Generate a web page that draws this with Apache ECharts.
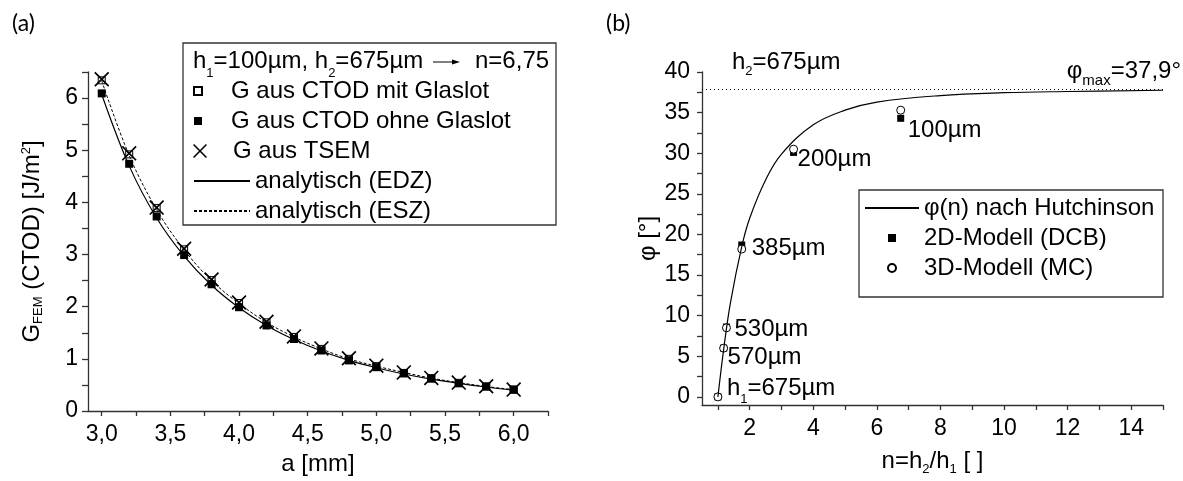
<!DOCTYPE html>
<html>
<head>
<meta charset="utf-8">
<script src="https://cdn.jsdelivr.net/npm/echarts@6/dist/echarts.min.js"></script>
<style>
  html, body { margin: 0; padding: 0; background: #fff; }
  #chart { width: 1183px; height: 481px; }
</style>
</head>
<body>
<div id="chart"></div>
<script>
// ---- (a) energy release rate G over crack length a ----
const crackLength   = [3.0, 3.2, 3.4, 3.6, 3.8, 4.0, 4.2, 4.4, 4.6, 4.8, 5.0, 5.2, 5.4, 5.6, 5.8, 6.0];
const gMitGlaslot   = [6.34, 4.92, 3.89, 3.10, 2.51, 2.07, 1.70, 1.42, 1.19, 1.00, 0.86, 0.73, 0.63, 0.54, 0.47, 0.41];
const gOhneGlaslot  = [6.09, 4.74, 3.73, 2.99, 2.43, 1.99, 1.64, 1.38, 1.16, 0.97, 0.84, 0.72, 0.62, 0.53, 0.47, 0.41];
const gTsem         = [6.36, 4.94, 3.90, 3.11, 2.52, 2.08, 1.71, 1.43, 1.20, 1.01, 0.87, 0.74, 0.635, 0.545, 0.475, 0.41];
const gAnalytEdz    = [6.07, 4.70, 3.70, 2.97, 2.41, 1.98, 1.64, 1.37, 1.15, 0.97, 0.83, 0.71, 0.61, 0.53, 0.46, 0.40];
const gAnalytEsz    = [6.33, 4.90, 3.86, 3.09, 2.50, 2.06, 1.70, 1.42, 1.19, 1.00, 0.86, 0.74, 0.63, 0.545, 0.47, 0.41];
const aTickLabels   = [3.0, 3.5, 4.0, 4.5, 5.0, 5.5, 6.0];
const gTickLabels   = [0, 1, 2, 3, 4, 5, 6];

// ---- (b) mode mixity phi over thickness ratio n = h2/h1 ----
const layerThickness = [675, 570, 530, 385, 200, 100];   // h1 in µm
const thicknessRatio = [1.0, 1.18, 1.27, 1.75, 3.38, 6.75];
const phi2D          = [0, 6.0, 8.6, 18.7, 30.1, 34.3];
const phi3D          = [0, 6.0, 8.5, 18.2, 30.5, 35.3];
const hutchN         = [1.0, 1.2, 1.4, 1.75, 2.0, 2.5, 3.0, 4.0, 5.0, 6.0, 8.0, 10.0, 12.0, 15.0];
const hutchPhi       = [0, 6.4, 11.7, 18.5, 22.0, 26.7, 29.9, 33.5, 35.3, 36.3, 37.1, 37.45, 37.6, 37.75];
const phiMax         = 37.9;
const nTickLabels    = [2, 4, 6, 8, 10, 12, 14];
const phiTickLabels  = [0, 5, 10, 15, 20, 25, 30, 35, 40];

const FONT = "'Liberation Sans', Arial, sans-serif";
const FS = 24;      // names, legends, annotations
const TFS = 23;     // tick labels
const AXIS_COLOR = '#333';

function range(a, b, step) {
  const out = [];
  for (let v = a; v <= b + 1e-9; v += step) out.push(+v.toFixed(4));
  return out;
}
// rich styles: main text plus a lowered (or raised) small token
function richSub(subSize, offset) {
  const L = 2 * offset + subSize;
  return {
    t:   { fontSize: FS, fontFamily: FONT, color: '#000', lineHeight: L },
    s:   { fontSize: subSize, fontFamily: FONT, color: '#000', lineHeight: subSize, verticalAlign: 'bottom' },
    sup: { fontSize: subSize, fontFamily: FONT, color: '#000', lineHeight: subSize, verticalAlign: 'top' }
  };
}
const xMark = 'path://M0,0.8L0.8,0L10,9.2L9.2,10Z M9.2,0L10,0.8L0.8,10L0,9.2Z';
const squareIcon = 'path://M0,0L10,0L10,10L0,10Z';

function axisCommon() {
  return {
    type: 'value',
    axisLine: { show: true, onZero: false, lineStyle: { color: AXIS_COLOR, width: 1.3 } },
    splitLine: { show: false },
    nameLocation: 'middle',
    nameTextStyle: { fontSize: FS, fontFamily: FONT, color: '#000' }
  };
}
function legendBlock(data, left, top, itemHeight, itemWidth) {
  return {
    data, orient: 'vertical', left, top, itemWidth, itemHeight, itemGap: 6, padding: 0,
    selectedMode: false, symbolKeepAspect: true,
    textStyle: { fontSize: FS, fontFamily: FONT, color: '#000', lineHeight: 24 }
  };
}

// label offsets for the layer thickness annotations in (b)
const thicknessLabelShift = [[9, -9], [4, 9], [8, 2], [10, 3], [4, 7], [7, 12]];

const chart = echarts.init(document.getElementById('chart'), null, { renderer: 'canvas' });

const option = {
  animation: false,
  backgroundColor: '#fff',
  textStyle: { fontFamily: FONT },
  grid: [
    { left: 88, top: 72, width: 460, height: 341 },
    { left: 702, top: 72, width: 461, height: 341 }
  ],
  xAxis: [
    Object.assign(axisCommon(), {
      gridIndex: 0, min: 2.9, max: 6.25,
      axisTick: { show: true, length: 5, customValues: range(3.0, 6.25, 0.25), lineStyle: { color: AXIS_COLOR, width: 1.3 } },
      axisLabel: { customValues: aTickLabels, fontSize: TFS, color: '#000', margin: 12,
                   formatter: v => v.toFixed(1).replace('.', ',') },
      name: 'a [mm]', nameGap: 41
    }),
    Object.assign(axisCommon(), {
      gridIndex: 1, min: 0.5, max: 15,
      axisTick: { show: true, length: 5, customValues: range(1, 15, 1), lineStyle: { color: AXIS_COLOR, width: 1.3 } },
      axisLabel: { customValues: nTickLabels, fontSize: TFS, color: '#000', margin: 12 },
      name: '{t|n=h}{s|2}{t|/h}{s|1}{t| [ ]}', nameGap: 42,
      nameTextStyle: { fontSize: FS, color: '#000', rich: richSub(13, 8) }
    })
  ],
  yAxis: [
    Object.assign(axisCommon(), {
      gridIndex: 0, min: 0, max: 6.5,
      axisTick: { show: true, length: 6, customValues: range(0, 6.5, 0.5), lineStyle: { color: AXIS_COLOR, width: 1.3 } },
      axisLabel: { customValues: gTickLabels, fontSize: TFS, color: '#000', margin: 10 },
      name: '{t|G}{s|FEM}{t| (CTOD) [J/m}{sup|2}{t|]}', nameGap: 43, nameRotate: 90,
      nameTextStyle: { fontSize: FS, color: '#000', rich: richSub(13, 6) }
    }),
    Object.assign(axisCommon(), {
      gridIndex: 1, min: -1, max: 40,
      axisTick: { show: true, length: 5, customValues: range(0, 40, 2.5), lineStyle: { color: AXIS_COLOR, width: 1.3 } },
      axisLabel: { customValues: phiTickLabels, fontSize: TFS, color: '#000', margin: 12 },
      name: 'φ [°]', nameGap: 39, nameRotate: 90
    })
  ],
  legend: [
    legendBlock([{ name: 'G aus CTOD mit Glaslot', icon: squareIcon },
                 { name: 'G aus CTOD ohne Glaslot', icon: squareIcon }], 193, 79, 8, 56),
    legendBlock(['G aus TSEM'], 193, 139, 14, 56),
    legendBlock([{ name: 'analytisch (EDZ)', itemStyle: { opacity: 0 } },
                 { name: 'analytisch (ESZ)', itemStyle: { opacity: 0 } }], 193, 169, 8, 56),
    legendBlock([{ name: 'φ(n) nach Hutchinson', itemStyle: { opacity: 0 } },
                 { name: '2D-Modell (DCB)', icon: squareIcon },
                 '3D-Modell (MC)'], 864, 196, 8, 54)
  ],
  series: [
    { name: 'analytisch (EDZ)', type: 'line', xAxisIndex: 0, yAxisIndex: 0, smooth: 0.35, symbol: 'none',
      lineStyle: { color: '#000', width: 1.2 }, itemStyle: { color: '#000' },
      data: crackLength.map((a, i) => [a, gAnalytEdz[i]]) },
    { name: 'analytisch (ESZ)', type: 'line', xAxisIndex: 0, yAxisIndex: 0, smooth: 0.35, symbol: 'none',
      lineStyle: { color: '#000', width: 1, type: [3, 2] }, itemStyle: { color: '#000' },
      data: crackLength.map((a, i) => [a, gAnalytEsz[i]]) },
    { name: 'G aus CTOD mit Glaslot', type: 'scatter', xAxisIndex: 0, yAxisIndex: 0, symbol: 'rect', symbolSize: 7,
      itemStyle: { color: '#fff', borderColor: '#000', borderWidth: 1, opacity: 1 },
      data: crackLength.map((a, i) => [a, gMitGlaslot[i]]) },
    { name: 'G aus CTOD ohne Glaslot', type: 'scatter', xAxisIndex: 0, yAxisIndex: 0, symbol: 'rect', symbolSize: 8,
      itemStyle: { color: '#000', opacity: 1 },
      data: crackLength.map((a, i) => [a, gOhneGlaslot[i]]) },
    { name: 'G aus TSEM', type: 'scatter', xAxisIndex: 0, yAxisIndex: 0, symbol: xMark, symbolSize: 15,
      symbolKeepAspect: true, itemStyle: { color: '#000', opacity: 1 },
      data: crackLength.map((a, i) => [a, gTsem[i]]) },

    { name: 'φ(n) nach Hutchinson', type: 'line', xAxisIndex: 1, yAxisIndex: 1, smooth: 0.4,
      symbol: 'none', lineStyle: { color: '#000', width: 1.2 }, itemStyle: { color: '#000' },
      data: hutchN.map((n, i) => [n, hutchPhi[i]]),
      markLine: { silent: true, symbol: ['none', 'none'], label: { show: false },
                  lineStyle: { color: '#000', width: 1, type: [1, 3] },
                  data: [{ yAxis: phiMax }] } },
    { name: '2D-Modell (DCB)', type: 'scatter', xAxisIndex: 1, yAxisIndex: 1, symbol: 'rect', symbolSize: 7,
      itemStyle: { color: '#000', opacity: 1 },
      data: thicknessRatio.map((n, i) => ({
        value: [n, phi2D[i]],
        label: {
          show: true, position: 'inside', align: 'left', verticalAlign: 'middle',
          offset: thicknessLabelShift[i],
          formatter: i === 0 ? '{t|h}{s|1}{t|=' + layerThickness[i] + 'µm}' : '{t|' + layerThickness[i] + 'µm}',
          rich: richSub(13, 12)
        }
      })) },
    { name: '3D-Modell (MC)', type: 'scatter', xAxisIndex: 1, yAxisIndex: 1, symbol: 'circle', symbolSize: 8,
      itemStyle: { color: '#fff', borderColor: '#000', borderWidth: 1, opacity: 1 },
      data: thicknessRatio.map((n, i) => [n, phi3D[i]]) }
  ],
  graphic: [
    { type: 'text', left: 12, top: 12, style: { text: '(a)', fontSize: 23, fontFamily: 'Lato, "Open Sans", sans-serif', fill: '#000' } },
    { type: 'text', left: 606, top: 12, style: { text: '(b)', fontSize: 23, fontFamily: 'Lato, "Open Sans", sans-serif', fill: '#000' } },
    // legend frames
    { type: 'rect', shape: { x: 183, y: 43, width: 373, height: 182 }, style: { fill: 'none', stroke: AXIS_COLOR, lineWidth: 1.3 } },
    { type: 'rect', shape: { x: 859, y: 190, width: 304, height: 107 }, style: { fill: 'none', stroke: AXIS_COLOR, lineWidth: 1.3 } },
    // legend header of (a)
    { type: 'text', x: 193, y: 61, style: { text: '{t|h}{s|1}{t|=100µm, h}{s|2}{t|=675µm}', verticalAlign: 'middle', rich: richSub(13, 12) } },
    { type: 'line', shape: { x1: 433, y1: 62, x2: 455, y2: 62 }, style: { stroke: '#000', lineWidth: 1 } },
    { type: 'polygon', shape: { points: [[452, 59.5], [460, 62], [452, 64.5]] }, style: { fill: '#000' } },
    { type: 'text', x: 475, y: 61, style: { text: 'n=6,75', fontSize: FS, fontFamily: FONT, fill: '#000', verticalAlign: 'middle' } },
    // annotations of (b)
    { type: 'text', x: 732, y: 62, style: { text: '{t|h}{s|2}{t|=675µm}', verticalAlign: 'middle', rich: richSub(13, 9) } },
    { type: 'text', x: 1181, y: 71, style: { text: '{t|φ}{s|max}{t|=37,9°}', align: 'right', verticalAlign: 'middle', rich: richSub(15, 10) } }
  ]
};

chart.setOption(option);
</script>
</body>
</html>
